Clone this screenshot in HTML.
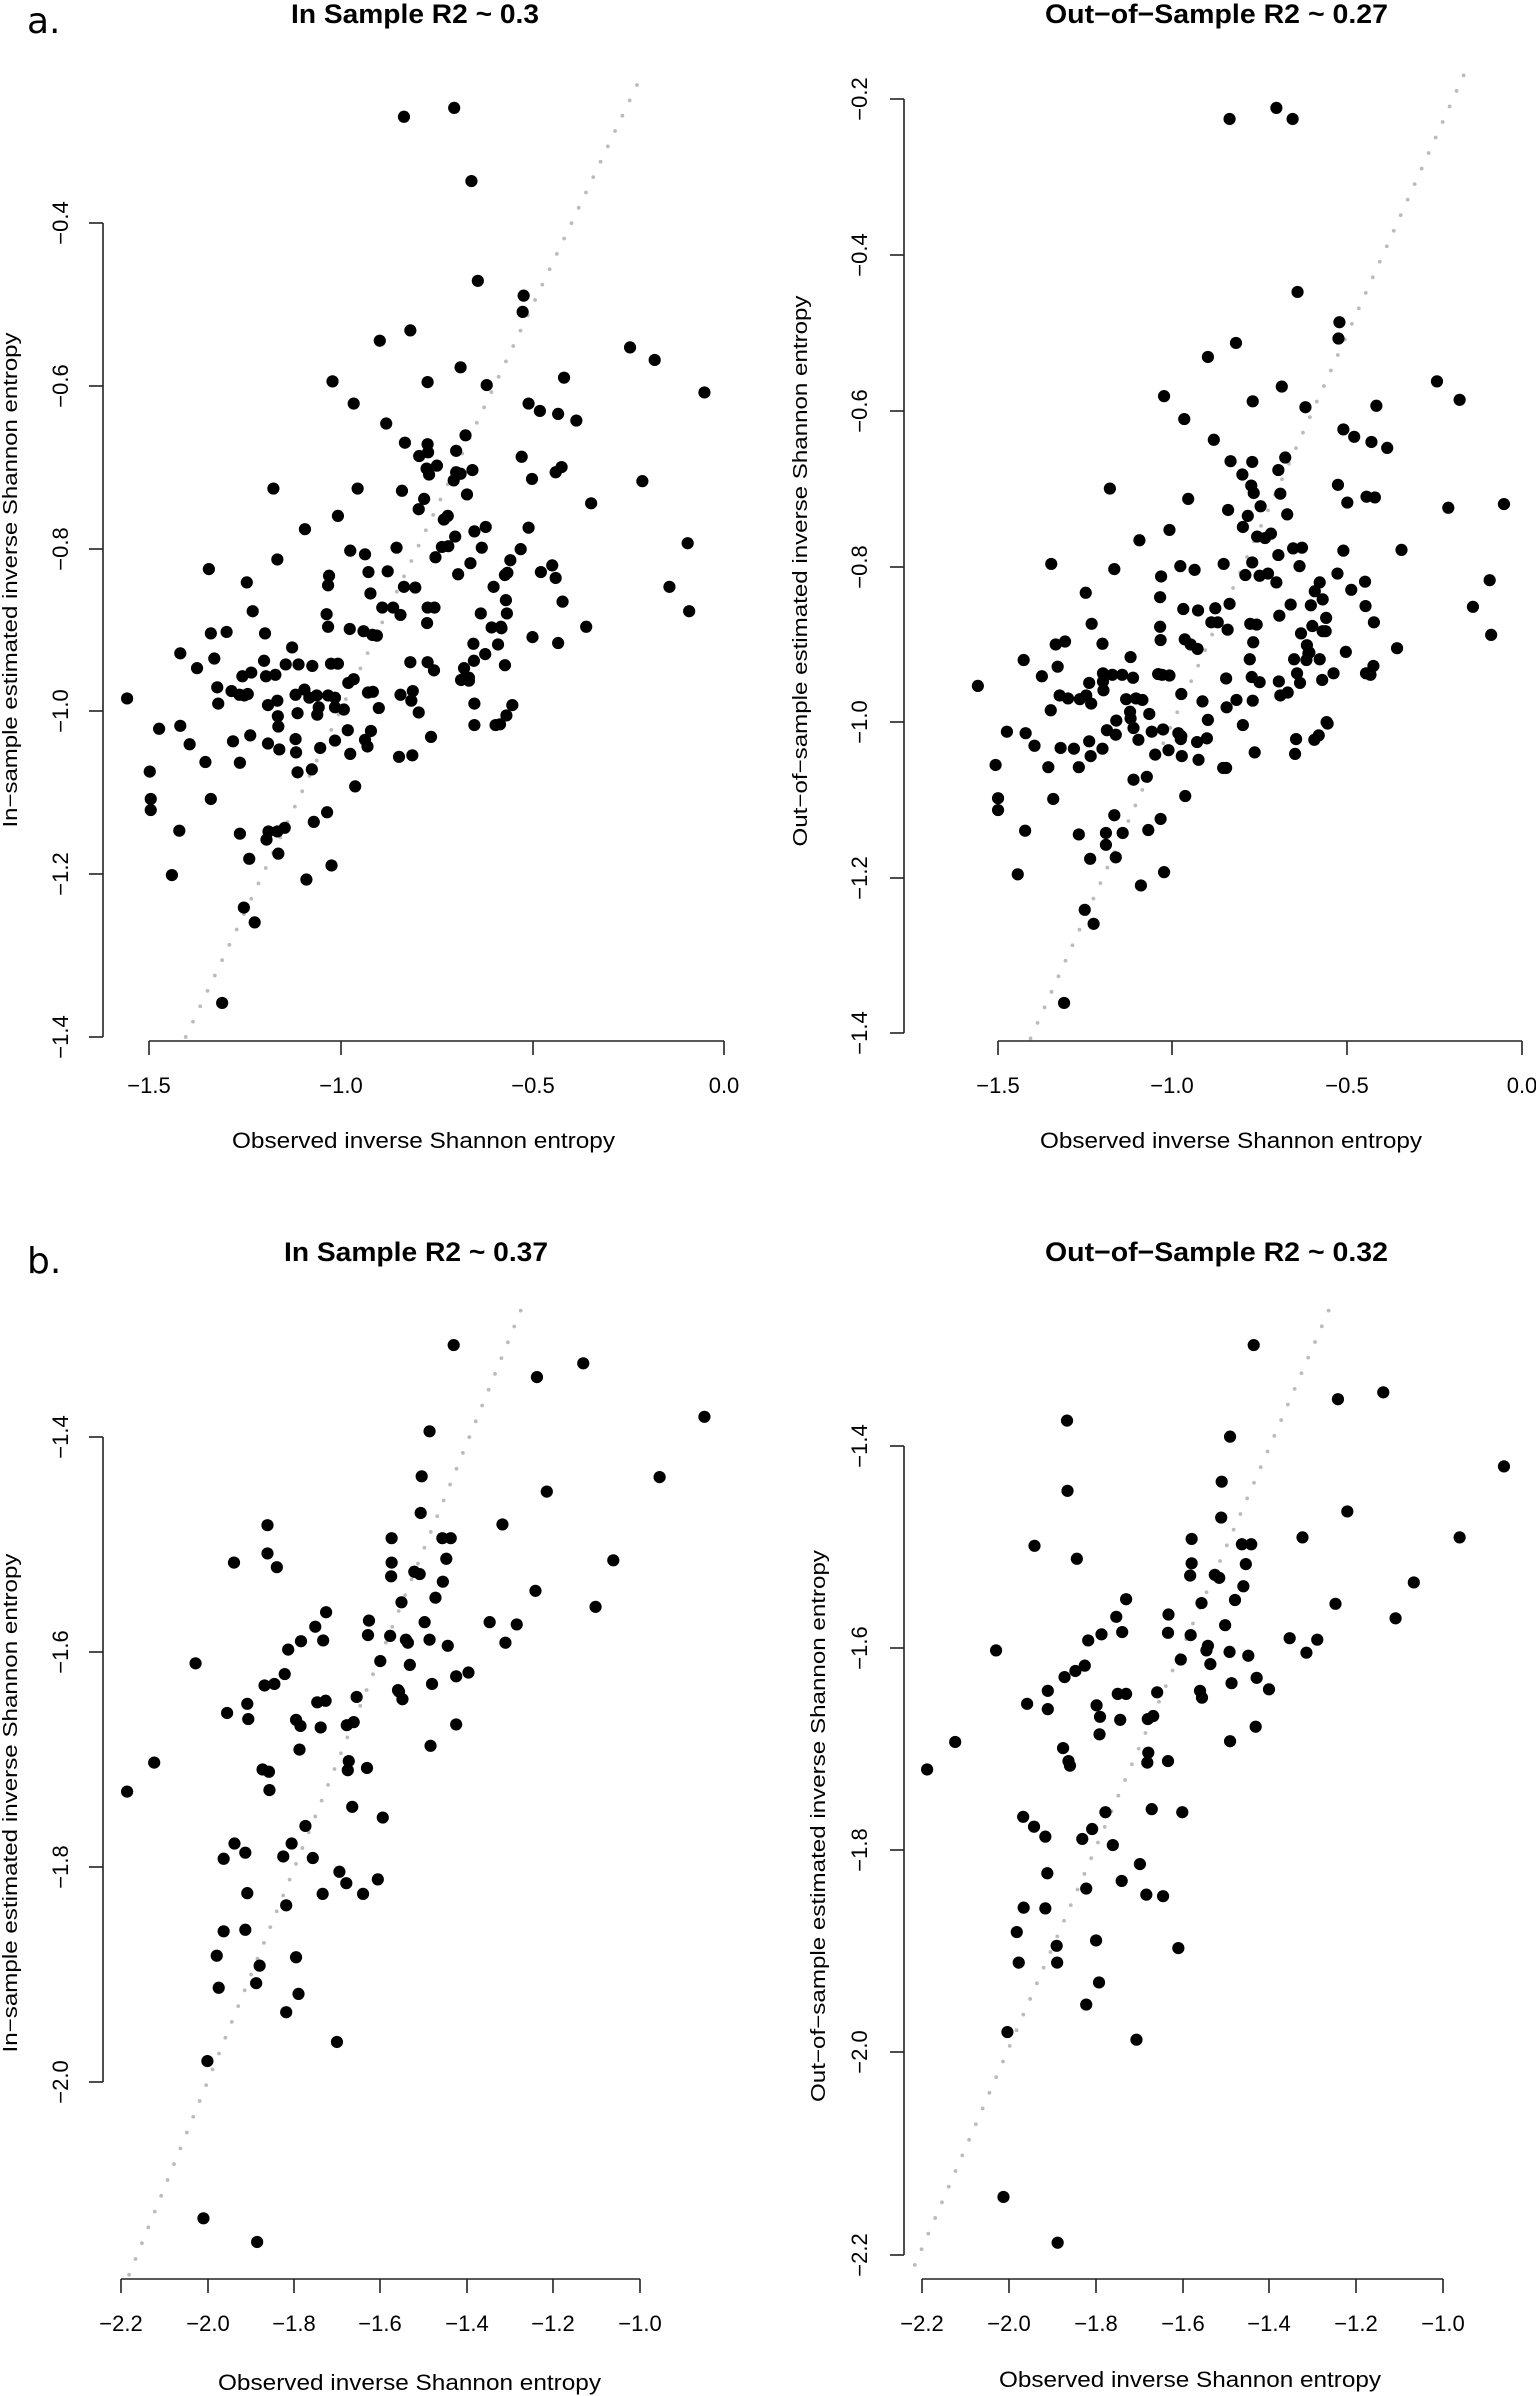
<!DOCTYPE html>
<html><head><meta charset="utf-8"><style>
html,body{margin:0;padding:0;background:#fff}
svg{display:block}
text{font-family:"Liberation Sans",Arial,sans-serif;fill:#000}
.t{font-weight:bold;font-size:27px}
.k{font-size:22px}
.lab{font-size:22px}
.yl{font-size:20px}
.p{font-family:"DejaVu Sans","Liberation Sans",sans-serif;font-size:36px}
</style></head><body>
<svg id="s" width="1536" height="2396" viewBox="0 0 1536 2396" xmlns="http://www.w3.org/2000/svg">
<g id="g"></g>
<text class="p" x="27" y="33">a.</text>
<text class="p" x="27" y="1273">b.</text>
<text class="t" x="291" y="23" textLength="248" lengthAdjust="spacingAndGlyphs">In Sample R2 ~ 0.3</text>
<text class="t" x="1045" y="23" textLength="343" lengthAdjust="spacingAndGlyphs">Out−of−Sample R2 ~ 0.27</text>
<text class="t" x="284" y="1261" textLength="264" lengthAdjust="spacingAndGlyphs">In Sample R2 ~ 0.37</text>
<text class="t" x="1045" y="1261" textLength="343" lengthAdjust="spacingAndGlyphs">Out−of−Sample R2 ~ 0.32</text>
<text class="lab" x="232" y="1148" textLength="383" lengthAdjust="spacingAndGlyphs">Observed inverse Shannon entropy</text>
<text class="lab" x="1040" y="1148" textLength="382" lengthAdjust="spacingAndGlyphs">Observed inverse Shannon entropy</text>
<text class="lab" x="218" y="2390" textLength="383" lengthAdjust="spacingAndGlyphs">Observed inverse Shannon entropy</text>
<text class="lab" x="999" y="2387" textLength="382" lengthAdjust="spacingAndGlyphs">Observed inverse Shannon entropy</text>
<text class="yl" transform="translate(17,580) rotate(-90)" text-anchor="middle" textLength="495" lengthAdjust="spacingAndGlyphs">In−sample estimated inverse Shannon entropy</text>
<text class="yl" transform="translate(807,571) rotate(-90)" text-anchor="middle" textLength="551" lengthAdjust="spacingAndGlyphs">Out−of−sample estimated inverse Shannon entropy</text>
<text class="yl" transform="translate(17,1803) rotate(-90)" text-anchor="middle" textLength="499" lengthAdjust="spacingAndGlyphs">In−sample estimated inverse Shannon entropy</text>
<text class="yl" transform="translate(825,1826) rotate(-90)" text-anchor="middle" textLength="552" lengthAdjust="spacingAndGlyphs">Out−of−sample estimated inverse Shannon entropy</text>
<g class="k" text-anchor="middle">
<text x="149" y="1093">−1.5</text><text x="341" y="1093">−1.0</text><text x="533" y="1093">−0.5</text><text x="724" y="1093">0.0</text>
<text x="998" y="1093">−1.5</text><text x="1172" y="1093">−1.0</text><text x="1347" y="1093">−0.5</text><text x="1522" y="1093">0.0</text>
<text x="121" y="2331">−2.2</text><text x="208" y="2331">−2.0</text><text x="294" y="2331">−1.8</text><text x="380" y="2331">−1.6</text><text x="467" y="2331">−1.4</text><text x="553" y="2331">−1.2</text><text x="640" y="2331">−1.0</text>
<text x="922" y="2331">−2.2</text><text x="1009" y="2331">−2.0</text><text x="1096" y="2331">−1.8</text><text x="1183" y="2331">−1.6</text><text x="1269" y="2331">−1.4</text><text x="1356" y="2331">−1.2</text><text x="1443" y="2331">−1.0</text>
<text transform="translate(68,223) rotate(-90)">−0.4</text>
<text transform="translate(68,386) rotate(-90)">−0.6</text>
<text transform="translate(68,549) rotate(-90)">−0.8</text>
<text transform="translate(68,711) rotate(-90)">−1.0</text>
<text transform="translate(68,874) rotate(-90)">−1.2</text>
<text transform="translate(68,1037) rotate(-90)">−1.4</text>
<text transform="translate(867,99) rotate(-90)">−0.2</text>
<text transform="translate(867,255) rotate(-90)">−0.4</text>
<text transform="translate(867,411) rotate(-90)">−0.6</text>
<text transform="translate(867,567) rotate(-90)">−0.8</text>
<text transform="translate(867,722) rotate(-90)">−1.0</text>
<text transform="translate(867,878) rotate(-90)">−1.2</text>
<text transform="translate(867,1033) rotate(-90)">−1.4</text>
<text transform="translate(68,1437) rotate(-90)">−1.4</text>
<text transform="translate(68,1652) rotate(-90)">−1.6</text>
<text transform="translate(68,1867) rotate(-90)">−1.8</text>
<text transform="translate(68,2082) rotate(-90)">−2.0</text>
<text transform="translate(867,1446) rotate(-90)">−1.4</text>
<text transform="translate(867,1648) rotate(-90)">−1.6</text>
<text transform="translate(867,1850) rotate(-90)">−1.8</text>
<text transform="translate(867,2052) rotate(-90)">−2.0</text>
<text transform="translate(867,2255) rotate(-90)">−2.2</text>
</g>
</svg>
<script>
var NS="http://www.w3.org/2000/svg",G=document.getElementById("g");
function el(n,a){var e=document.createElementNS(NS,n);for(var k in a)e.setAttribute(k,a[k]);G.appendChild(e);return e;}
var panels=[
{ox:0,oy:0,fy:1.353,vx:103,vy:[223,1037],yt:[223,386,549,711,874,1037],hy:1041,xt:[149,341,533,724],diag:[377,1403,1293,115],
pts:[820,158,922,146,957,245,970,380,1063,400,1061,422,771,461,833,447,935,497,868,517,988,521,675,516,718,546,1073,546,1096,556,1133,560,1145,511,1170,569,1279,470,1329,487,1430,531,784,573,822,599,945,589,926,610,869,612,868,601,866,634,851,617,887,630,871,642,816,664,926,639,935,641,959,636,921,650,948,669,1059,618,1080,648,1128,639,1140,632,1200,681,1304,651,1396,735,1359,794,1399,827,555,661,726,661,686,698,619,716,850,689,861,675,909,698,901,703,924,726,897,740,910,739,884,754,963,719,986,713,978,741,1073,714,1057,743,563,757,424,770,711,745,741,750,668,779,666,792,748,774,787,773,805,741,820,794,843,795,930,777,955,762,1002,794,1030,775,1025,778,1036,758,1121,765,1098,774,1128,782,1142,814,1190,848,501,788,513,827,538,857,460,855,428,857,435,891,366,884,400,904,441,930,443,952,663,831,666,848,710,851,752,803,776,822,798,822,813,832,738,854,765,860,756,859,868,822,882,822,867,843,976,830,998,849,1017,848,1018,850,1029,830,1027,812,1081,862,1133,870,593,876,606,899,536,894,470,935,492,915,486,940,503,939,510,910,496,941,540,915,559,913,580,899,563,948,618,933,600,940,604,965,634,901,672,898,686,898,628,944,643,941,666,941,680,944,718,919,707,924,747,937,757,936,835,948,813,940,833,896,868,896,881,907,944,917,942,904,961,871,952,917,962,894,985,885,1011,872,1025,900,936,920,952,921,258,945,323,986,366,982,385,1007,417,1031,428,1081,304,1044,306,1081,306,1096,473,1003,487,1032,508,995,544,1006,544,954,564,969,565,983,567,1014,600,1000,601,1018,647,957,650,1012,644,967,680,1002,680,957,706,988,711,1020,698,960,741,1001,753,989,769,958,746,1010,838,935,850,964,875,997,810,1024,837,1022,963,952,963,981,1028,968,1040,954,1006,981,1015,980,604,1045,633,1041,721,1064,637,1112,664,1099,673,1171,622,1190,545,1125,563,1125,541,1136,565,1155,578,1120,487,1128,506,1162,495,1228,517,1248,349,1184,364,1124,451,1357]},
{ox:768,oy:0,fy:1.353,vx:904,vy:[99,1033],yt:[99,255,411,567,722,878,1033],hy:1041,xt:[998,1172,1347,1522],diag:[533,1405,1412,102],
pts:[937,161,1032,146,1065,161,1075,395,1160,436,1158,458,950,464,893,483,1043,523,984,543,1091,551,804,536,845,567,905,595,1168,581,1190,591,1225,598,1257,606,1235,549,1358,516,1404,541,939,624,983,625,1050,619,963,642,981,657,986,667,1000,685,1040,668,1054,696,1036,636,1157,656,1176,680,1215,672,1232,673,1381,687,1494,682,694,661,853,675,934,690,815,717,754,731,964,713,974,698,993,726,1021,722,1009,728,983,761,1036,751,1066,742,1084,741,1079,766,1032,788,998,779,1015,776,1038,833,1061,818,1156,776,1168,745,1286,744,1212,787,1184,798,1120,788,1110,800,1126,811,1102,819,1213,820,1230,842,1465,785,1431,821,1468,859,575,763,703,770,798,780,837,766,866,771,925,763,969,778,645,802,657,844,796,808,843,824,873,826,908,823,937,817,900,842,913,842,933,852,979,844,992,845,846,865,872,878,603,868,584,872,679,871,796,848,797,866,985,869,1082,857,1094,873,1105,847,1097,884,1133,836,1126,854,1173,882,1223,913,1277,877,519,893,556,915,588,902,592,941,574,961,609,945,633,946,646,941,652,924,680,911,680,922,681,934,656,952,699,913,719,913,736,889,741,917,792,912,800,913,815,914,774,966,735,963,727,946,747,945,760,947,839,939,882,949,858,872,893,974,930,918,931,957,951,947,978,892,982,916,998,923,984,948,1040,941,1055,937,1037,922,1068,892,1080,924,1074,911,1099,883,1093,893,1120,892,1125,920,1132,854,1148,911,1214,911,1229,901,1136,979,1118,995,1072,1000,1070,1020,1109,1001,1134,977,426,928,485,990,523,992,541,1009,569,1038,462,1035,467,1080,467,1096,579,1081,594,1012,621,1013,631,1038,652,1003,655,1023,679,1013,688,988,707,975,706,994,736,972,742,985,779,990,752,1001,786,1021,802,987,833,992,839,996,813,1015,838,1000,840,1023,871,1004,874,1028,891,999,930,1039,964,981,988,1018,742,1055,769,1051,703,1103,686,1127,720,1127,706,1160,686,1143,772,1123,797,1108,847,1077,924,1039,804,1180,757,1198,631,1129,654,1162,522,1124,507,1183,643,1231,661,1250,601,1357]},
{ox:0,oy:1200,fy:1.31,vx:103,vy:[1437,2082],yt:[1437,1652,1867,2082],hy:2279,xt:[121,208,294,380,467,553,640],diag:[262,1408,1057,145],
pts:[921,190,1184,214,1090,232,1430,284,872,303,1339,363,856,362,1110,382,854,410,1020,425,543,426,795,443,898,443,915,443,543,463,475,475,795,475,562,481,906,470,1245,472,841,487,852,490,794,493,899,500,1087,512,884,521,815,527,662,540,1209,533,640,559,749,551,862,553,994,553,1049,556,611,578,656,577,747,570,792,571,824,576,828,580,872,576,909,584,1026,580,585,589,397,607,772,604,832,609,578,621,557,634,537,636,926,624,951,619,877,634,808,642,817,654,810,644,461,672,502,660,504,680,644,658,661,656,724,651,601,681,610,689,651,691,704,688,718,684,926,687,608,720,874,715,708,735,706,747,745,744,533,746,546,749,547,773,313,737,258,775,715,795,777,809,620,820,476,843,454,863,498,855,575,860,592,843,635,862,689,880,703,895,737,909,767,890,655,909,502,908,581,924,454,958,498,956,440,990,444,1032,527,1003,520,1026,601,992,606,1040,581,1064,684,1103,421,1128,413,1334,522,1365]},
{ox:768,oy:1200,fy:1.31,vx:904,vy:[1446,2255],yt:[1446,1648,1850,2052,2255],hy:2279,xt:[922,1009,1096,1183,1269,1356,1443],diag:[298,1395,1138,145],
pts:[986,190,1249,252,1157,261,607,289,938,310,1494,349,921,369,608,381,920,416,1176,408,1085,442,860,444,1404,442,541,453,627,470,962,451,981,451,860,476,970,477,857,492,907,491,916,495,1311,501,965,506,727,523,880,528,948,524,1152,529,707,546,813,543,928,557,1274,548,719,566,677,569,812,567,858,570,1059,574,1115,576,650,577,463,590,893,584,890,590,1093,593,937,592,975,597,643,610,624,617,602,625,898,608,838,602,992,626,941,633,1017,641,568,643,710,647,727,647,790,645,877,643,881,652,526,660,568,667,667,662,674,677,715,681,771,680,782,676,990,690,938,709,673,700,599,718,610,735,613,741,772,724,770,737,812,735,380,710,323,746,685,802,779,798,841,802,518,808,540,821,563,834,638,837,658,824,700,845,755,870,567,882,718,892,768,910,802,912,646,902,519,927,563,928,505,959,509,999,586,977,587,999,666,970,672,1025,646,1054,833,980,748,1100,486,1090,478,1306,588,1366]}
];
panels.forEach(function(p){
  var fx=2.03;
  function X(z){return p.ox+z/fx;} function Y(z){return p.oy+z/p.fy;}
  var x1=X(p.diag[0]),y1=Y(p.diag[1]),x2=X(p.diag[2]),y2=Y(p.diag[3]);
  var L=Math.hypot(x2-x1,y2-y1),n=Math.round(L/17);
  for(var i=0;i<=n;i++){el("circle",{cx:x1+(x2-x1)*i/n,cy:y1+(y2-y1)*i/n,r:1.9,fill:"#bbb"});}
  el("line",{x1:p.vx,y1:p.vy[0],x2:p.vx,y2:p.vy[1],stroke:"#222","stroke-width":1.6});
  p.yt.forEach(function(t){el("line",{x1:p.vx-14,y1:t,x2:p.vx,y2:t,stroke:"#222","stroke-width":1.6});});
  var xs=p.xt;
  el("line",{x1:xs[0],y1:p.hy,x2:xs[xs.length-1],y2:p.hy,stroke:"#222","stroke-width":1.6});
  xs.forEach(function(t){el("line",{x1:t,y1:p.hy,x2:t,y2:p.hy+14,stroke:"#222","stroke-width":1.6});});
  for(var j=0;j<p.pts.length;j+=2){el("circle",{cx:X(p.pts[j]),cy:Y(p.pts[j+1]),r:6.1,fill:"#000"});}
});
</script>
</body></html>
